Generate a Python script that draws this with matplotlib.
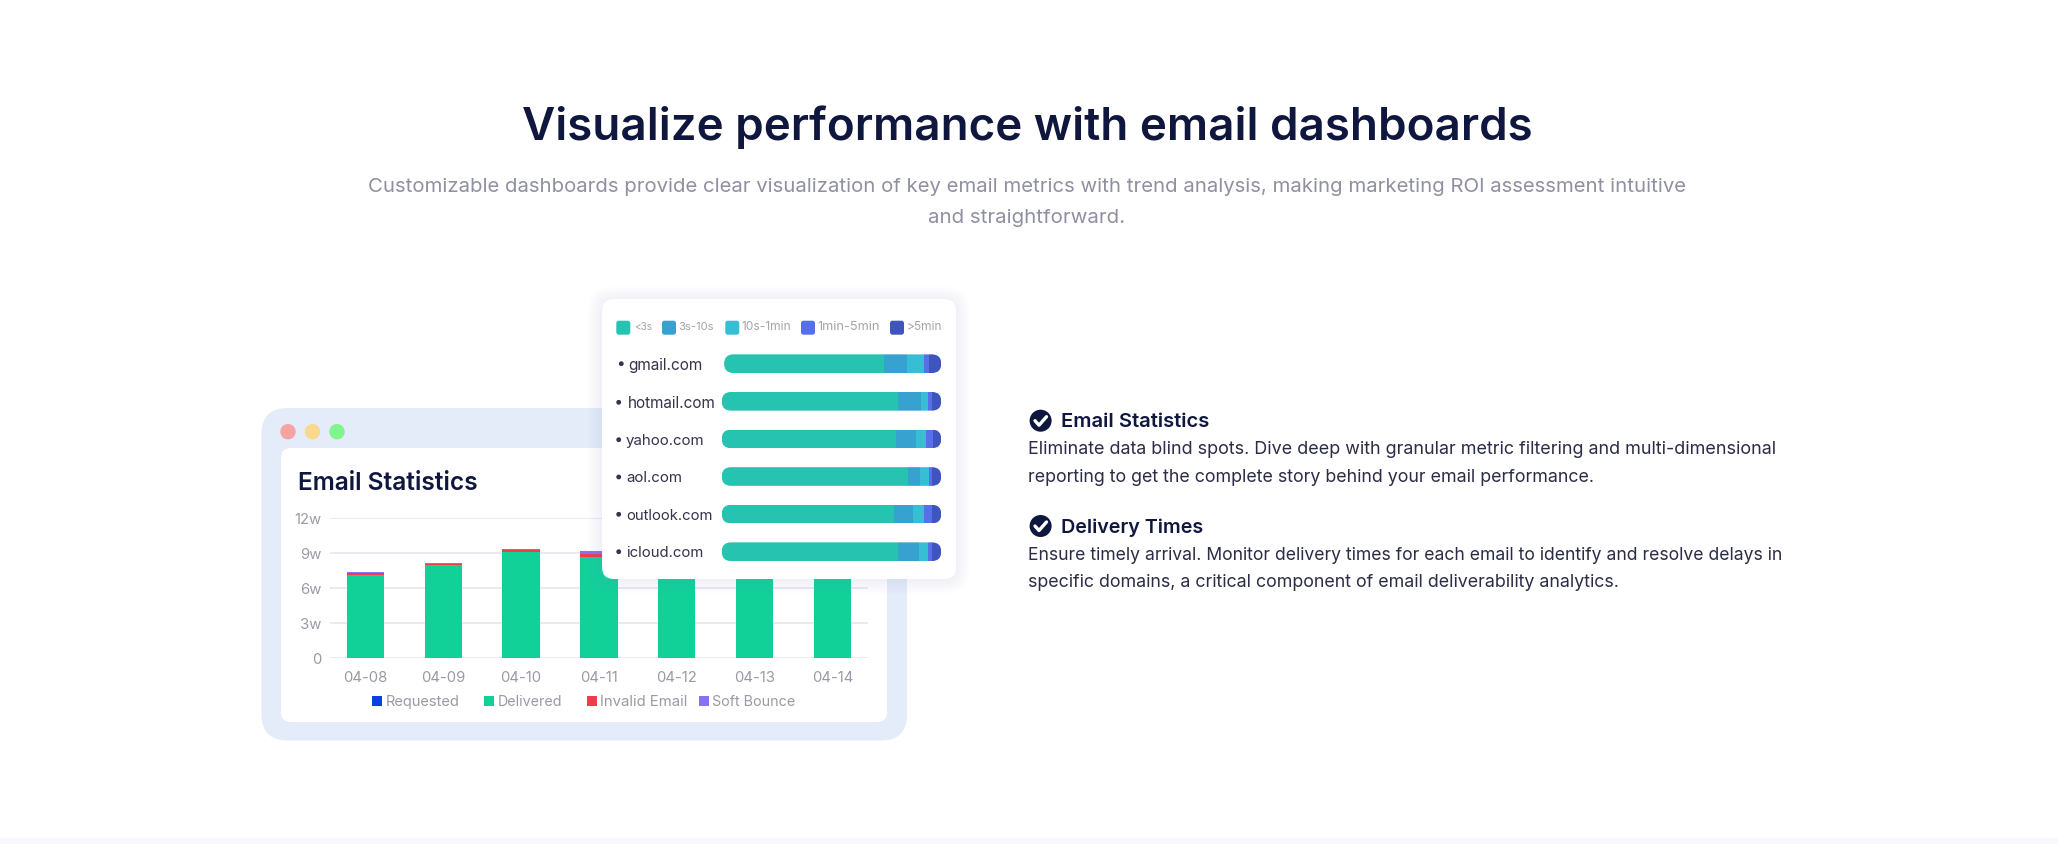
import matplotlib
matplotlib.use("Agg")
import matplotlib.pyplot as plt
import numpy as np
from matplotlib.patches import FancyBboxPatch, Rectangle, Circle
from matplotlib.transforms import IdentityTransform

W, H = 2058, 844
FONT = ["Inter", "Noto Sans", "DejaVu Sans"]
plt.rcParams["font.family"] = FONT

# ---- data ----
dates = ["04-08", "04-09", "04-10", "04-11", "04-12", "04-13", "04-14"]
delivered = [7.10, 8.03, 9.11, 8.71, 8.60, 8.30, 8.40]
invalid_email = [0.20, 0.07, 0.14, 0.22, 0.15, 0.15, 0.15]
soft_bounce = [0.13, 0.10, 0.15, 0.29, 0.15, 0.15, 0.15]
requested = [0, 0, 0, 0, 0, 0, 0]
y_ticks = [0, 3, 6, 9, 12]
y_tick_labels = ["0", "3w", "6w", "9w", "12w"]
chart_legend = ["Requested", "Delivered", "Invalid Email", "Soft Bounce"]
chart_colors = ["#0b3fe2", "#11d098", "#f23c4c", "#8a70f6"]

domains = ["gmail.com", "hotmail.com", "yahoo.com", "aol.com", "outlook.com", "icloud.com"]
under_3s = [72.9, 80.3, 79.4, 84.9, 78.5, 80.3]
s3_10s = [10.6, 10.5, 9.1, 5.5, 8.8, 9.4]
s10_1min = [7.6, 3.3, 4.6, 3.8, 4.9, 4.4]
min1_5 = [2.0, 1.5, 3.2, 1.5, 3.6, 1.5]
over_5min = [5.8, 4.4, 3.7, 4.3, 4.2, 4.4]
time_legend = ["<3s", "3s-10s", "10s-1min", "1min-5min", ">5min"]
time_colors = ["#26c4b0", "#37a2d0", "#38bed4", "#5570e8", "#3f55bd"]

NAVY = "#10173f"
GREY = "#9a9aa6"


def axes_px(x0, y0, x1, y1, z):
    """Axes whose box is given in reference pixels (y downward)."""
    return fig.add_axes([x0 / W, 1 - y1 / H, (x1 - x0) / W, (y1 - y0) / H], zorder=z)


def rbox(ax, x0, y0, x1, y1, r, **kw):
    p = FancyBboxPatch((x0 + r, y0 + r), x1 - x0 - 2 * r, y1 - y0 - 2 * r,
                       boxstyle=f"round,pad={r},rounding_size={r}", linewidth=0, **kw)
    ax.add_patch(p)
    return p


def fit(t, width):
    """Scale a text's font size so that it spans the measured width."""
    r = fig.canvas.get_renderer()
    t.set_fontsize(t.get_fontsize() * width / t.get_window_extent(r).width)
    return t


fig = plt.figure(figsize=(W / 100, H / 100), dpi=100, facecolor="white")

# background layer in pixel coordinates
bg = axes_px(0, 0, W, H, 0)
bg.set_xlim(0, W); bg.set_ylim(H, 0); bg.axis("off")
bg.add_patch(Rectangle((0, 838), W, 6, color="#f6f8fd", lw=0))
rbox(bg, 261.5, 408, 907, 740.5, 26, color="#e4ecf9")
rbox(bg, 281, 448, 887, 722, 10, color="white")
for x, c in zip([288, 312.5, 337], ["#f7a3a3", "#fbd88e", "#80f58c"]):
    bg.add_patch(Circle((x, 431.7), 7.7, color=c, lw=0))
fit(bg.text(298, 484, "Email Statistics", fontsize=24, fontweight=600, color=NAVY,
            va="center"), 180)

# stacked chart
ax = axes_px(330, 518.3, 867.5, 658.3, 1)
ax.patch.set_alpha(0)
x = np.arange(len(dates))
bw = 0.48
bottom = np.zeros(len(dates))
for vals, col in zip([requested, delivered, invalid_email, soft_bounce], chart_colors):
    ax.bar(x, vals, bw, bottom=bottom, color=col, linewidth=0, zorder=3)
    bottom += np.array(vals)
ax.set_xlim(-0.454, 6.449)
ax.set_ylim(0, 12)
ax.set_xticks(x, dates)
ax.set_yticks(y_ticks, y_tick_labels)
ax.grid(axis="y", color="#e9e9ee", lw=1.3, zorder=0)
ax.set_axisbelow(True)
for s in ax.spines.values():
    s.set_visible(False)
ax.tick_params(length=0, colors=GREY, labelsize=10.7)
ax.tick_params(axis="y", pad=6)
ax.tick_params(axis="x", pad=9)

# chart legend
for sx, tx, tw, lab, col in zip([372.3, 484.3, 587, 699], [385.3, 497.7, 600, 712.4],
                                [74, 64.3, 87.6, 83], chart_legend, chart_colors):
    bg.add_patch(Rectangle((sx, 696), 9.8, 10, color=col, lw=0))
    fit(bg.text(tx, 702, lab, fontsize=13, color=GREY, va="center"), tw)

# floating card
card = axes_px(0, 0, W, H, 2)
card.set_xlim(0, W); card.set_ylim(H, 0); card.axis("off"); card.patch.set_alpha(0)
for g in range(14, 0, -2):
    rbox(card, 602 - g, 299 - g + 1, 956 + g, 579 + g + 1, 12 + g, color="#6d8ff0", alpha=0.012)
rbox(card, 602, 299, 956, 579, 12, color="white")
for sx, tx, tw, lab, col in zip([616.3, 662, 725.3, 801, 890], [633.7, 678.7, 741.7, 817.7, 906.7],
                                [18, 36, 49.5, 62, 35.3], time_legend, time_colors):
    rbox(card, sx, 320.7, sx + 14, 334.7, 2.5, color=col)
    fit(card.text(tx, 327.5, lab, fontsize=11, color="#a3a3ad", va="center"), tw)

# domain bars
bx = axes_px(721.7, 344.9, 941.3, 570.5, 3)
bx.patch.set_alpha(0); bx.axis("off")
bx.set_xlim(0, 100); bx.set_ylim(5.5, -0.5)
series = np.array([under_3s, s3_10s, s10_1min, min1_5, over_5min])
totals = series.sum(axis=0)
bar_h = 0.497
fig.canvas.draw()
for i in range(len(domains)):
    left = 100 - totals[i]
    (px0, py0), (px1, py1) = bx.transData.transform([(left, i + bar_h / 2), (100, i - bar_h / 2)])
    r = (py1 - py0) / 2
    clip = FancyBboxPatch((px0 + r, py0 + r), px1 - px0 - 2 * r, py1 - py0 - 2 * r,
                          boxstyle=f"round,pad={r},rounding_size={r}",
                          transform=IdentityTransform(), linewidth=0)
    for j, col in enumerate(time_colors):
        segs = bx.barh(i, series[j, i], bar_h, left=left, color=col, linewidth=0)
        for s in segs:
            s.set_clip_path(clip)
        left += series[j, i]

# domain labels
rows = [363.7, 402.3, 439.7, 477, 514.3, 551.7]
for d, y, bxp, tx, tw in zip(domains, rows, [621.3, 618.7, 618.7, 618.7, 618.7, 618.7],
                             [628.3, 628.3, 626, 626, 626, 626], [74.5, 88, 78.5, 56, 86, 77]):
    card.add_patch(Circle((bxp, y), 2.4, color="#33334a", lw=0))
    fit(card.text(tx, y + 1.5, d, fontsize=13, color="#33334a", va="center"), tw)

# page text
fit(bg.text(1027, 127, "Visualize performance with email dashboards", fontsize=44,
            fontweight=600, color=NAVY, ha="center", va="center"), 1009)
fit(bg.text(1027.5, 187, "Customizable dashboards provide clear visualization of key email "
            "metrics with trend analysis, making marketing ROI assessment intuitive",
            fontsize=20, color="#8f90a0", ha="center", va="center"), 1314)
fit(bg.text(1026.5, 218, "and straightforward.", fontsize=20, color="#8f90a0",
            ha="center", va="center"), 196.5)

for cy in [420.7, 526]:
    bg.add_patch(Circle((1040.6, cy), 11, color=NAVY, lw=0))
    bg.plot([1035, 1039, 1046.5], [cy, cy + 4.5, cy - 4], color="white", lw=2.4,
            solid_capstyle="round", solid_joinstyle="round")
fit(bg.text(1061, 422, "Email Statistics", fontsize=19, fontweight=600, color=NAVY, va="center"), 148)
fit(bg.text(1061, 528, "Delivery Times", fontsize=19, fontweight=600, color=NAVY, va="center"), 142)

BODY = "#2a2d45"
for y, s, w_ in [
    (449.5, "Eliminate data blind spots. Dive deep with granular metric filtering and multi-dimensional", 749),
    (477, "reporting to get the complete story behind your email performance.", 569),
    (556, "Ensure timely arrival. Monitor delivery times for each email to identify and resolve delays in", 756),
    (582.5, "specific domains, a critical component of email deliverability analytics.", 593),
]:
    fit(bg.text(1028, y, s, fontsize=17, color=BODY, va="center"), w_)

fig.savefig("out.png", dpi=100, facecolor="white")
